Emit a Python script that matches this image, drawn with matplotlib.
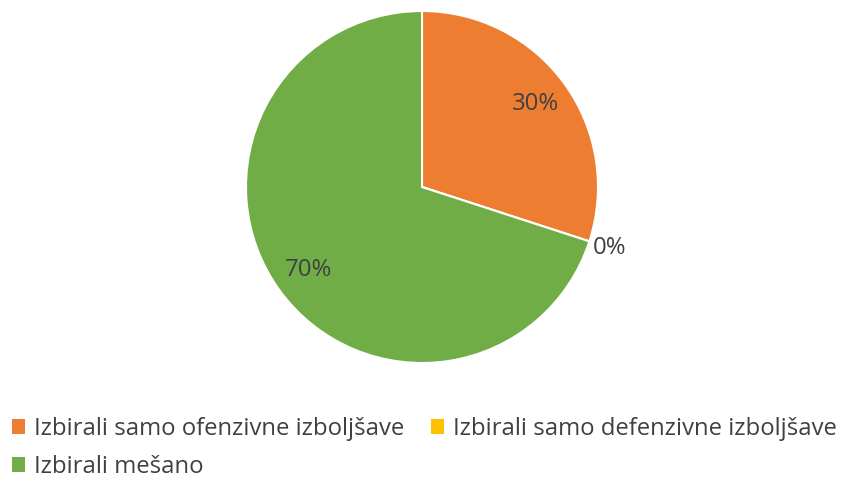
import numpy as np
import matplotlib.pyplot as plt
from matplotlib.patches import Patch

plt.rcParams['font.family'] = ['Open Sans', 'DejaVu Sans']

labels = ['Izbirali samo ofenzivne izboljšave',
          'Izbirali samo defenzivne izboljšave',
          'Izbirali mešano']
values = [30, 0, 70]
colors = ['#ED7D31', '#FFC000', '#70AD47']
TEXT = '#404040'
FS = 17.2

W, H = 844, 479
fig = plt.figure(figsize=(W / 100, H / 100), dpi=100)

# pie centre (422, 187) px, radius 176 px
cx, cy, r = 422, 187, 176
ax = fig.add_axes([(cx - r) / W, (H - cy - r) / H, 2 * r / W, 2 * r / H])

wedges, _ = ax.pie(values, colors=colors, startangle=90, counterclock=False,
                   radius=1.0,
                   wedgeprops=dict(edgecolor='white', linewidth=1.5))
ax.set_xlim(-1, 1)
ax.set_ylim(-1, 1)
ax.set_aspect('equal')
ax.axis('off')

# percentage labels
total = sum(values)
for w, v in zip(wedges, values):
    ang = np.deg2rad((w.theta1 + w.theta2) / 2)
    d = 0.80 if v > 0 else 1.12
    ax.text(d * np.cos(ang), d * np.sin(ang), f'{v / total * 100:.0f}%',
            ha='center', va='center', fontsize=FS, color=TEXT,
            clip_on=False)

# legend: row 1 = items 0,1 ; row 2 = item 2
handles = [Patch(facecolor=c, edgecolor='none') for c in colors]
order = [0, 2, 1]
fig.legend([handles[i] for i in order], [labels[i] for i in order],
           ncol=2, loc='upper left', bbox_to_anchor=(12 / W, 1 - 417 / H),
           frameon=False, fontsize=FS, labelcolor=TEXT,
           handlelength=0.55, handleheight=0.55, handletextpad=0.35,
           columnspacing=1.15, labelspacing=0.58, borderpad=0,
           borderaxespad=0)

fig.savefig('out.png', dpi=100, facecolor='white')
